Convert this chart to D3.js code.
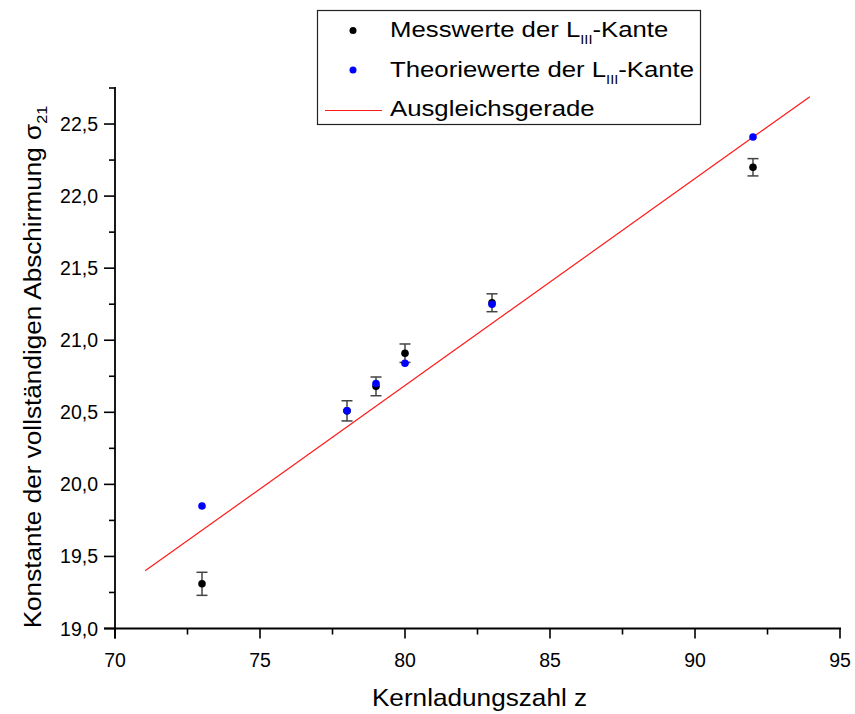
<!DOCTYPE html>
<html>
<head>
<meta charset="utf-8">
<script src="https://cdn.jsdelivr.net/npm/d3@7/dist/d3.min.js"></script>
<style>
  html, body { margin: 0; padding: 0; background: #fff; }
  svg { display: block; font-family: "Liberation Sans", Arial, sans-serif; }
</style>
</head>
<body>
<svg id="chart" width="855" height="714"></svg>
<script>
// Kernladungszahl z of the measured elements
const zValues = [73, 78, 79, 80, 83, 92];
// Measured screening constants (L_III edge) and their uncertainties
const measured = [19.31, 20.51, 20.68, 20.91, 21.26, 22.20];
const measuredErr = [0.08, 0.07, 0.065, 0.064, 0.062, 0.06];
// Theoretical screening constants (L_III edge)
const theory = [19.85, 20.51, 20.70, 20.84, 21.25, 22.41];
// Fitted straight line, given by its two end points
const fitZ = [71.04, 93.96];
const fitSigma = [19.40, 22.69];
// Axis ticks
const xTicks = [70, 75, 80, 85, 90, 95];
const yTicks = [19.0, 19.5, 20.0, 20.5, 21.0, 21.5, 22.0, 22.5];

const svg = d3.select("#chart");
const plotLeft = 115, plotRight = 840, plotTop = 88, plotBottom = 628.5;

const x = d3.scaleLinear().domain([70, 95]).range([plotLeft, plotRight]);
const y = d3.scaleLinear().domain([19, 22.75]).range([plotBottom, plotTop]);

const de = d3.formatLocale({decimal: ",", thousands: ".", grouping: [3], currency: ["", " €"]});
const fmtY = de.format(".1f");

// minor ticks halfway between the labelled ones
const xMinor = d3.range(72.5, 95, 5);
const yMinor = d3.range(19.25, 22.76, 0.5);

const axisColor = "#000";
const tickFont = 19.5;
const g = svg.append("g");

// x axis
const xAxis = g.append("g").attr("transform", `translate(0,${plotBottom})`);
xAxis.append("line").attr("x1", plotLeft - 11).attr("x2", plotRight + 1)
  .attr("stroke", axisColor).attr("stroke-width", 1.8);
xAxis.selectAll(".maj").data(xTicks).join("line")
  .attr("x1", d => x(d)).attr("x2", d => x(d)).attr("y1", 0).attr("y2", 10)
  .attr("stroke", axisColor).attr("stroke-width", 1.6);
xAxis.selectAll(".min").data(xMinor).join("line")
  .attr("x1", d => x(d)).attr("x2", d => x(d)).attr("y1", 0).attr("y2", 6)
  .attr("stroke", axisColor).attr("stroke-width", 1.6);
xAxis.selectAll("text").data(xTicks).join("text")
  .attr("x", d => x(d)).attr("y", 38)
  .attr("text-anchor", "middle").attr("font-size", tickFont).attr("fill", "#000")
  .text(d => d);

// y axis
const yAxis = g.append("g").attr("transform", `translate(${plotLeft},0)`);
yAxis.append("line").attr("y1", plotBottom + 10).attr("y2", plotTop - 1)
  .attr("stroke", axisColor).attr("stroke-width", 1.8);
yAxis.selectAll(".maj").data(yTicks).join("line")
  .attr("y1", d => y(d)).attr("y2", d => y(d)).attr("x1", 0).attr("x2", -11)
  .attr("stroke", axisColor).attr("stroke-width", 1.6);
yAxis.selectAll(".min").data(yMinor).join("line")
  .attr("y1", d => y(d)).attr("y2", d => y(d)).attr("x1", 0).attr("x2", -6)
  .attr("stroke", axisColor).attr("stroke-width", 1.6);
yAxis.selectAll("text").data(yTicks).join("text")
  .attr("x", -17).attr("y", d => y(d) + 7)
  .attr("text-anchor", "end").attr("font-size", tickFont).attr("fill", "#000")
  .text(d => fmtY(d));

// fitted line
svg.append("line")
  .attr("x1", x(fitZ[0])).attr("y1", y(fitSigma[0]))
  .attr("x2", x(fitZ[1])).attr("y2", y(fitSigma[1]))
  .attr("stroke", "#ff1a1a").attr("stroke-width", 1.2);

// error bars of the measured values
const eb = svg.append("g").attr("stroke", "#444").attr("stroke-width", 1.5);
zValues.forEach((z, i) => {
  const cx = x(z), y0 = y(measured[i] - measuredErr[i]), y1 = y(measured[i] + measuredErr[i]);
  eb.append("line").attr("x1", cx).attr("x2", cx).attr("y1", y0).attr("y2", y1);
  eb.append("line").attr("x1", cx - 5.5).attr("x2", cx + 5.5).attr("y1", y0).attr("y2", y0);
  eb.append("line").attr("x1", cx - 5.5).attr("x2", cx + 5.5).attr("y1", y1).attr("y2", y1);
});

// measured points
svg.append("g").selectAll("circle").data(zValues).join("circle")
  .attr("cx", d => x(d)).attr("cy", (d, i) => y(measured[i])).attr("r", 3.8)
  .attr("fill", "#000");

// theoretical points
svg.append("g").selectAll("circle").data(zValues).join("circle")
  .attr("cx", d => x(d)).attr("cy", (d, i) => y(theory[i])).attr("r", 3.8)
  .attr("fill", "#0000ff");

// axis titles (slightly widened face)
const titleFont = 24, titleStretch = 1.09;
svg.append("text")
  .attr("transform", `translate(${(plotLeft + plotRight) / 2 + 2},706) scale(${titleStretch},1)`)
  .attr("text-anchor", "middle").attr("font-size", titleFont).attr("fill", "#000")
  .text("Kernladungszahl z");

const yt = svg.append("text")
  .attr("transform", `translate(41,367) rotate(-90) scale(${titleStretch},1)`)
  .attr("text-anchor", "middle").attr("font-size", titleFont).attr("fill", "#000");
yt.append("tspan").text("Konstante der vollständigen Abschirmung σ");
yt.append("tspan").attr("font-size", 15).attr("dy", 6).text("21");

// legend
const lg = svg.append("g");
lg.append("rect").attr("x", 317.5).attr("y", 10.5).attr("width", 383).attr("height", 114)
  .attr("fill", "#fff").attr("stroke", "#222").attr("stroke-width", 1.2);
const legendItems = [
  {label: "Messwerte der L", sub: "III", rest: "-Kante", color: "#000", type: "dot"},
  {label: "Theoriewerte der L", sub: "III", rest: "-Kante", color: "#0000ff", type: "dot"},
  {label: "Ausgleichsgerade", sub: "", rest: "", color: "#ff1a1a", type: "line"}
];
legendItems.forEach((it, i) => {
  const base = 37 + i * 39.5;
  const cy = base - 6.5;
  if (it.type === "dot") {
    lg.append("circle").attr("cx", 353).attr("cy", cy).attr("r", 3.5).attr("fill", it.color);
  } else {
    lg.append("line").attr("x1", 325).attr("x2", 382).attr("y1", cy + 1).attr("y2", cy + 1)
      .attr("stroke", it.color).attr("stroke-width", 1.2);
  }
  const t = lg.append("text").attr("transform", `translate(390,${base}) scale(1.12,1)`)
    .attr("font-size", 23).attr("fill", "#000");
  t.append("tspan").text(it.label);
  if (it.sub) {
    t.append("tspan").attr("font-size", 13).attr("dy", 7).text(it.sub);
    t.append("tspan").attr("dy", -7).text(it.rest);
  }
});
</script>
</body>
</html>
